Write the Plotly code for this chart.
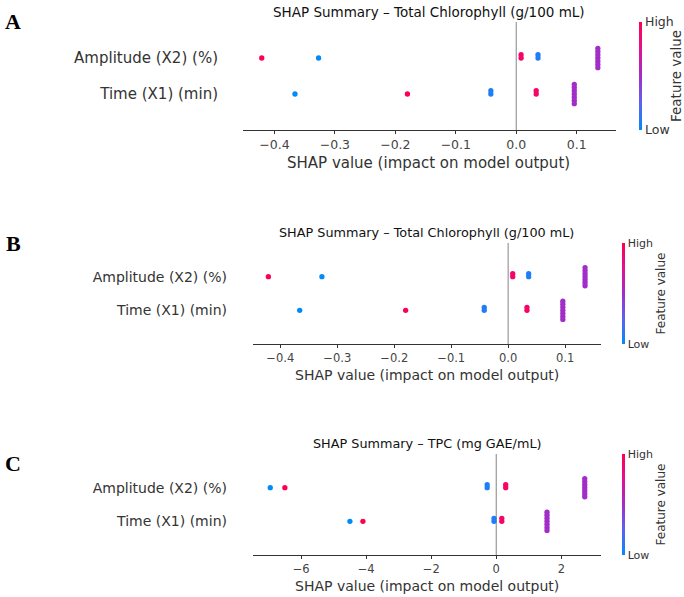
import numpy as np
import plotly.graph_objects as go

W, H = 684, 597

# ---------------- data ----------------
feature_names = ["Time (X1) (min)", "Amplitude (X2) (%)"]   # bottom row, top row

# Total chlorophyll model (panels A and B)
chl_time_shap = [-0.366, -0.180, -0.042, -0.042, 0.033, 0.033,
                 0.096, 0.096, 0.096, 0.096, 0.096, 0.096, 0.096]
chl_time_feat = [-1.414, 1.414, -1, -1, 1, 1, 0, 0, 0, 0, 0, 0, 0]
chl_amp_shap = [-0.421, -0.327, 0.008, 0.008, 0.036, 0.036,
                0.135, 0.135, 0.135, 0.135, 0.135, 0.135, 0.135]
chl_amp_feat = [1.414, -1.414, 1, 1, -1, -1, 0, 0, 0, 0, 0, 0, 0]

# TPC model (panel C)
tpc_time_shap = [-4.50, -4.10, -0.07, -0.07, 0.17, 0.17,
                 1.56, 1.56, 1.56, 1.56, 1.56, 1.56, 1.56]
tpc_time_feat = [-1.414, 1.414, -1, -1, 1, 1, 0, 0, 0, 0, 0, 0, 0]
tpc_amp_shap = [-6.95, -6.50, -0.28, -0.28, 0.29, 0.29,
                2.72, 2.72, 2.72, 2.72, 2.72, 2.72, 2.72]
tpc_amp_feat = [-1.414, 1.414, -1, -1, 1, 1, 0, 0, 0, 0, 0, 0, 0]

chl_ticks = [-0.4, -0.3, -0.2, -0.1, 0.0, 0.1]
tpc_ticks = [-6, -4, -2, 0, 2]

panel_titles = ["SHAP Summary – Total Chlorophyll (g/100 mL)",
                "SHAP Summary – Total Chlorophyll (g/100 mL)",
                "SHAP Summary – TPC (mg GAE/mL)"]
panel_letters = ["A", "B", "C"]
x_label = "SHAP value (impact on model output)"
cbar_title = "Feature value"
cbar_labels = ["Low", "High"]

# ---------------- layout helpers ----------------
FONT = "DejaVu Sans"
TXT = "#333333"
TICK = "#444444"
colorscale = [[0.0, "#008bfb"], [0.25, "#5d63ee"], [0.5, "#a22dc8"],
              [0.75, "#e3108f"], [1.0, "#ff0051"]]
CMIN, CMAX = -1.2, 1.2


def px_x(v):
    return v / W


def px_y(v):
    return 1 - v / H


def swarm_offsets(values, row_height=0.4, nbins=100):
    vals = np.asarray(values, float)
    rng = vals.max() - vals.min()
    quant = np.round(nbins * (vals - vals.min()) / (rng + 1e-8))
    order = np.argsort(quant, kind="stable")
    ys = np.zeros(len(vals))
    layer, last = 0, None
    for i in order:
        if quant[i] != last:
            layer = 0
        ys[i] = np.ceil(layer / 2) * ((layer % 2) * 2 - 1)
        layer += 1
        last = quant[i]
    ys *= 0.9 * (row_height / np.max(ys + 1))
    return ys


panels = [
    dict(rows=[(chl_time_shap, chl_time_feat), (chl_amp_shap, chl_amp_feat)],
         px=(243, 616), py=(22, 130), xr=(-0.452, 0.165), ticks=chl_ticks, fmt=".1f",
         title_xy=(429, 12), xlab_xy=(429, 163), letter_xy=(13, 21),
         cbar_x=639, fv_x=676, tsize=13.5, lsize=15, ksize=12.5, csize=12.5, standoff=24),
    dict(rows=[(chl_time_shap, chl_time_feat), (chl_amp_shap, chl_amp_feat)],
         px=(253, 601), py=(243, 344), xr=(-0.448, 0.163), ticks=chl_ticks, fmt=".1f",
         title_xy=(426, 232), xlab_xy=(427, 375), letter_xy=(13, 243),
         cbar_x=622, fv_x=660, tsize=12.8, lsize=14, ksize=11.5, csize=11, standoff=25),
    dict(rows=[(tpc_time_shap, tpc_time_feat), (tpc_amp_shap, tpc_amp_feat)],
         px=(253, 601), py=(454, 555), xr=(-7.48, 3.22), ticks=tpc_ticks, fmt="d",
         title_xy=(427, 443), xlab_xy=(427, 586), letter_xy=(13, 463),
         cbar_x=622, fv_x=660, tsize=12.8, lsize=14, ksize=11.5, csize=11, standoff=25),
]

fig = go.Figure()
annotations = []
shapes = []

for k, p in enumerate(panels):
    sfx = "" if k == 0 else str(k + 1)
    xa, ya = "x" + sfx, "y" + sfx
    ca = "coloraxis" + sfx
    for r, (shap_vals, feat_vals) in enumerate(p["rows"]):
        offs = swarm_offsets(shap_vals)
        fig.add_trace(go.Scatter(
            x=shap_vals, y=r + offs, mode="markers", xaxis=xa, yaxis=ya,
            marker=dict(size=5.3, color=feat_vals, coloraxis=ca, line=dict(width=0)),
            showlegend=False, hoverinfo="x"))

    x0, x1 = p["px"]
    y0, y1 = p["py"]
    fig.layout["xaxis" + sfx] = dict(
        domain=[px_x(x0), px_x(x1)], anchor=ya, range=list(p["xr"]),
        showline=True, linecolor="#333333", linewidth=1.2, mirror=False,
        ticks="outside", ticklen=3, tickwidth=1, tickcolor="#333333",
        tickvals=p["ticks"], tickformat=p["fmt"], showgrid=False, zeroline=False,
        tickfont=dict(family=FONT, size=p["ksize"], color=TICK), fixedrange=True)
    fig.layout["yaxis" + sfx] = dict(
        domain=[px_y(y1), px_y(y0)], anchor=xa, range=[-1, 2],
        tickvals=[0, 1], ticktext=feature_names, ticks="", showline=False,
        showgrid=False, zeroline=False, ticklabelstandoff=p["standoff"],
        tickfont=dict(family=FONT, size=p["lsize"], color=TXT), fixedrange=True)

    shapes.append(dict(type="line", xref=xa, yref=ya + " domain", x0=0, x1=0, y0=0, y1=1,
                       line=dict(color="#999999", width=1.2), layer="below"))

    fig.layout[ca] = dict(
        colorscale=colorscale, cmin=CMIN, cmax=CMAX,
        colorbar=dict(
            x=px_x(p["cbar_x"]), xanchor="left", y=px_y((y0 + y1) / 2), yanchor="middle",
            lenmode="pixels", len=(y1 - y0), thickness=3, thicknessmode="pixels",
            xpad=0, ypad=0, outlinewidth=0, ticks="", tickvals=[CMIN, CMAX],
            ticktext=cbar_labels, ticklabelposition="outside",
            tickfont=dict(family=FONT, size=p["csize"], color=TXT)))

    tx, ty = p["title_xy"]
    annotations.append(dict(text=panel_titles[k], x=px_x(tx), y=px_y(ty), xref="paper",
                            yref="paper", showarrow=False, xanchor="center", yanchor="middle",
                            font=dict(family=FONT, size=p["tsize"], color="#111111")))
    lx, ly = p["xlab_xy"]
    annotations.append(dict(text=x_label, x=px_x(lx), y=px_y(ly), xref="paper", yref="paper",
                            showarrow=False, xanchor="center", yanchor="middle",
                            font=dict(family=FONT, size=p["lsize"], color=TXT)))
    gx, gy = p["letter_xy"]
    annotations.append(dict(text="<b>" + panel_letters[k] + "</b>", x=px_x(gx), y=px_y(gy),
                            xref="paper", yref="paper", showarrow=False, xanchor="center",
                            yanchor="middle",
                            font=dict(family="Liberation Serif", size=22, color="#000000")))
    annotations.append(dict(text=cbar_title, x=px_x(p["fv_x"]), y=px_y((y0 + y1) / 2),
                            xref="paper", yref="paper", showarrow=False, textangle=-90,
                            xanchor="center", yanchor="middle",
                            font=dict(family=FONT, size=p["csize"] + 1, color=TXT)))

fig.update_layout(width=W, height=H, margin=dict(l=0, r=0, t=0, b=0),
                  paper_bgcolor="white", plot_bgcolor="white",
                  annotations=annotations, shapes=shapes, showlegend=False)

fig.write_html("out.html", config={"displayModeBar": False})
